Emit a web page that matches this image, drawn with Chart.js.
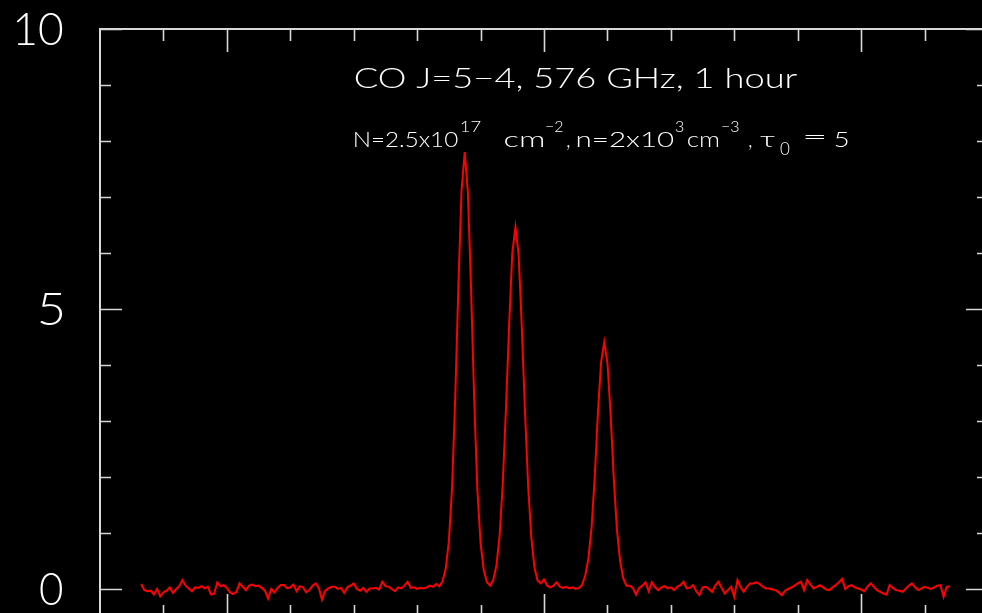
<!DOCTYPE html>
<html>
<head>
<meta charset="utf-8">
<title>CO J=5-4 spectrum</title>
<script src="https://cdn.jsdelivr.net/npm/chart.js@4.4.1/dist/chart.umd.min.js"></script>
<style>
  html, body { margin: 0; padding: 0; background: #000; overflow: hidden; }
  #spectrum { display: block; }
</style>
</head>
<body>
<canvas id="spectrum" width="1000" height="640"></canvas>
<script>
/* spectrum: one value per channel, channel numbers start at firstChannel */
const firstChannel = -27;
const intensity = [
  0.09, -0.02, -0.04, -0.03, -0.10, 0.00, -0.13, -0.06, -0.03, 0.03,
  -0.07, 0.00, 0.05, 0.16, 0.06, 0.01, -0.04, 0.03, 0.02, 0.05,
  0.01, 0.04, -0.10, -0.08, 0.12, 0.05, 0.07, 0.02, -0.06, -0.09,
  -0.05, 0.10, 0.04, -0.02, 0.06, 0.08, 0.05, 0.06, 0.02, -0.03,
  -0.17, 0.00, -0.06, 0.02, 0.07, 0.07, 0.01, 0.03, 0.08, -0.04,
  0.05, 0.03, -0.06, -0.02, 0.06, 0.10, 0.02, -0.19, -0.03, 0.01,
  0.04, 0.04, 0.00, 0.02, -0.07, 0.03, 0.06, 0.10, 0.00, -0.03,
  0.02, -0.05, 0.01, 0.01, 0.02, -0.01, 0.13, 0.05, 0.04, 0.00,
  -0.04, 0.03, 0.01, 0.06, 0.13, 0.02, 0.03, 0.00, 0.02, 0.01,
  0.03, 0.06, 0.04, 0.09, 0.05, 0.14, 0.36, 0.85, 1.80, 3.40,
  5.40, 7.12, 7.80, 7.08, 5.36, 3.36, 1.76, 0.82, 0.34, 0.12,
  0.06, 0.16, 0.42, 0.95, 1.88, 3.22, 4.70, 6.00, 6.46, 5.97,
  4.68, 3.18, 1.84, 0.92, 0.38, 0.15, 0.10, 0.17, 0.06, 0.03,
  0.06, 0.12, 0.04, 0.02, 0.04, 0.01, 0.03, 0.00, 0.02, 0.07,
  0.24, 0.54, 1.10, 2.00, 3.14, 4.05, 4.41, 4.04, 3.12, 1.98,
  1.06, 0.50, 0.19, 0.06, 0.06, 0.02, -0.10, 0.02, 0.06, 0.12,
  -0.04, 0.12, 0.03, -0.02, 0.03, 0.05, 0.01, 0.03, -0.02, 0.04,
  0.07, 0.13, 0.01, 0.02, 0.07, -0.04, -0.11, 0.03, 0.04, 0.00,
  -0.05, 0.06, 0.13, 0.02, -0.08, -0.02, 0.04, -0.14, 0.16, 0.03,
  -0.05, 0.04, 0.10, 0.10, 0.12, 0.09, 0.04, 0.01, 0.01, -0.01,
  -0.02, -0.06, -0.11, -0.03, 0.00, 0.03, 0.06, 0.10, 0.13, -0.02,
  0.16, 0.08, 0.01, 0.04, 0.07, 0.03, -0.01, -0.02, 0.03, 0.07,
  0.12, 0.18, 0.00, 0.05, 0.07, 0.03, 0.01, -0.01, -0.04, 0.04,
  0.10, 0.04, -0.02, -0.05, -0.08, -0.10, 0.07, 0.02, -0.02, -0.03,
  -0.05, 0.00, 0.06, 0.10, 0.03, -0.02, 0.01, 0.04, 0.02, 0.00,
  0.03, 0.06, 0.07, -0.14, 0.04, 0.05
];

/* axes */
const yMajorTicks = [0, 5, 10];
const yMinorTicks = [1, 2, 3, 4, 6, 7, 8, 9];
const yTickLabels = ["0", "5", "10"];
const xMajorTicks = [0, 100, 200];
const xMinorTicks = [-20, 20, 40, 60, 80, 120, 140, 160, 180, 220];

const titleLine = "CO J=5\u22124, 576 GHz, 1 hour";

const frameColor = "#d8d8d8";
const textColor = "#ffffff";
const fontFamily = "Lato, 'Noto Sans', 'DejaVu Sans', sans-serif";

const points = intensity.map((v, i) => ({ x: firstChannel + i, y: v }));

/* draw text stretched between x0 and x1 (the old plot font is very wide) */
function drawFit(ctx, text, x0, x1, y, size) {
    ctx.save();
    ctx.font = `300 ${size}px ${fontFamily}`;
    ctx.textAlign = "left";
    let sx = 1;
    if (x1) {
        const m = ctx.measureText(text);
        const w = m.actualBoundingBoxRight + m.actualBoundingBoxLeft;
        sx = (x1 - x0) / w;
        x0 += m.actualBoundingBoxLeft * sx;
    }
    ctx.translate(x0, y);
    ctx.scale(sx, 1);
    ctx.fillText(text, 0, 0);
    ctx.restore();
}

const framePlugin = {
    id: "frame",
    beforeDraw(chart) {
        const ctx = chart.ctx;
        ctx.save();
        ctx.fillStyle = "#000";
        ctx.fillRect(0, 0, chart.width, chart.height);
        ctx.restore();
    },
    afterDraw(chart) {
        const { ctx, chartArea: a, scales: { x, y } } = chart;
        ctx.save();
        ctx.strokeStyle = frameColor;
        ctx.lineWidth = 2;
        ctx.strokeRect(a.left, a.top, a.right - a.left, a.bottom - a.top);

        ctx.beginPath();
        // y ticks on both sides, pointing in
        yMajorTicks.forEach(v => {
            const py = Math.round(y.getPixelForValue(v)) + 0.5;
            ctx.moveTo(a.left, py); ctx.lineTo(a.left + 22, py);
            ctx.moveTo(a.right, py); ctx.lineTo(a.right - 22, py);
        });
        yMinorTicks.forEach(v => {
            const py = Math.round(y.getPixelForValue(v)) + 0.5;
            ctx.moveTo(a.left, py); ctx.lineTo(a.left + 11, py);
            ctx.moveTo(a.right, py); ctx.lineTo(a.right - 11, py);
        });
        // x ticks top and bottom
        xMajorTicks.forEach(v => {
            const px = Math.round(x.getPixelForValue(v)) + 0.5;
            ctx.moveTo(px, a.top); ctx.lineTo(px, a.top + 23);
            ctx.moveTo(px, a.bottom); ctx.lineTo(px, a.bottom - 23);
        });
        xMinorTicks.forEach(v => {
            const px = Math.round(x.getPixelForValue(v)) + 0.5;
            ctx.moveTo(px, a.top); ctx.lineTo(px, a.top + 12);
            ctx.moveTo(px, a.bottom); ctx.lineTo(px, a.bottom - 12);
        });
        ctx.lineWidth = 1.6;
        ctx.stroke();

        // y labels
        ctx.fillStyle = textColor;
        ctx.textBaseline = "alphabetic";
        yMajorTicks.forEach((v, i) => {
            const py = y.getPixelForValue(v) + 16;
            const label = yTickLabels[i];
            if (label.length > 1) {
                drawFit(ctx, label, 16, 62, py, 46);
            } else {
                drawFit(ctx, label, 40, 62, py, 46);
            }
        });

        // title lines
        drawFit(ctx, titleLine, 355, 798, 88, 27);

        const base = 147, sup = 132, sub = 155;
        drawFit(ctx, "N=2.5x10", 355, 458, base, 21);
        drawFit(ctx, "17", 461, 481, sup, 16);
        drawFit(ctx, "cm", 505, 544, base, 21);
        drawFit(ctx, "\u22122", 545, 0, sup, 16);
        drawFit(ctx, ",", 566, 0, base, 21);
        drawFit(ctx, "n=2x10", 577, 674, base, 21);
        drawFit(ctx, "3", 675, 0, sup, 16);
        drawFit(ctx, "cm", 688, 719, base, 21);
        drawFit(ctx, "\u22123", 721, 0, sup, 16);
        drawFit(ctx, ",", 748, 0, base, 21);
        drawFit(ctx, "\u03c4", 760, 776, base, 21);
        drawFit(ctx, "0", 780, 790, sub, 17);
        drawFit(ctx, "=", 804, 825, base - 3, 21);
        drawFit(ctx, "5", 835, 848, base, 21);
        ctx.restore();
    }
};

const chart = new Chart(document.getElementById("spectrum").getContext("2d"), {
    type: "line",
    data: {
        datasets: [{
            data: points,
            borderColor: "#ff0000",
            borderWidth: 2,
            pointRadius: 0,
            tension: 0,
            fill: false
        }]
    },
    options: {
        responsive: false,
        animation: false,
        parsing: false,
        layout: { padding: { left: 100, top: 29, right: 12, bottom: 23 } },
        plugins: { legend: { display: false }, tooltip: { enabled: false } },
        scales: {
            x: { type: "linear", min: -40, max: 240, display: false },
            y: { type: "linear", min: -0.5, max: 10, display: false }
        }
    },
    plugins: [framePlugin]
});
</script>
</body>
</html>
